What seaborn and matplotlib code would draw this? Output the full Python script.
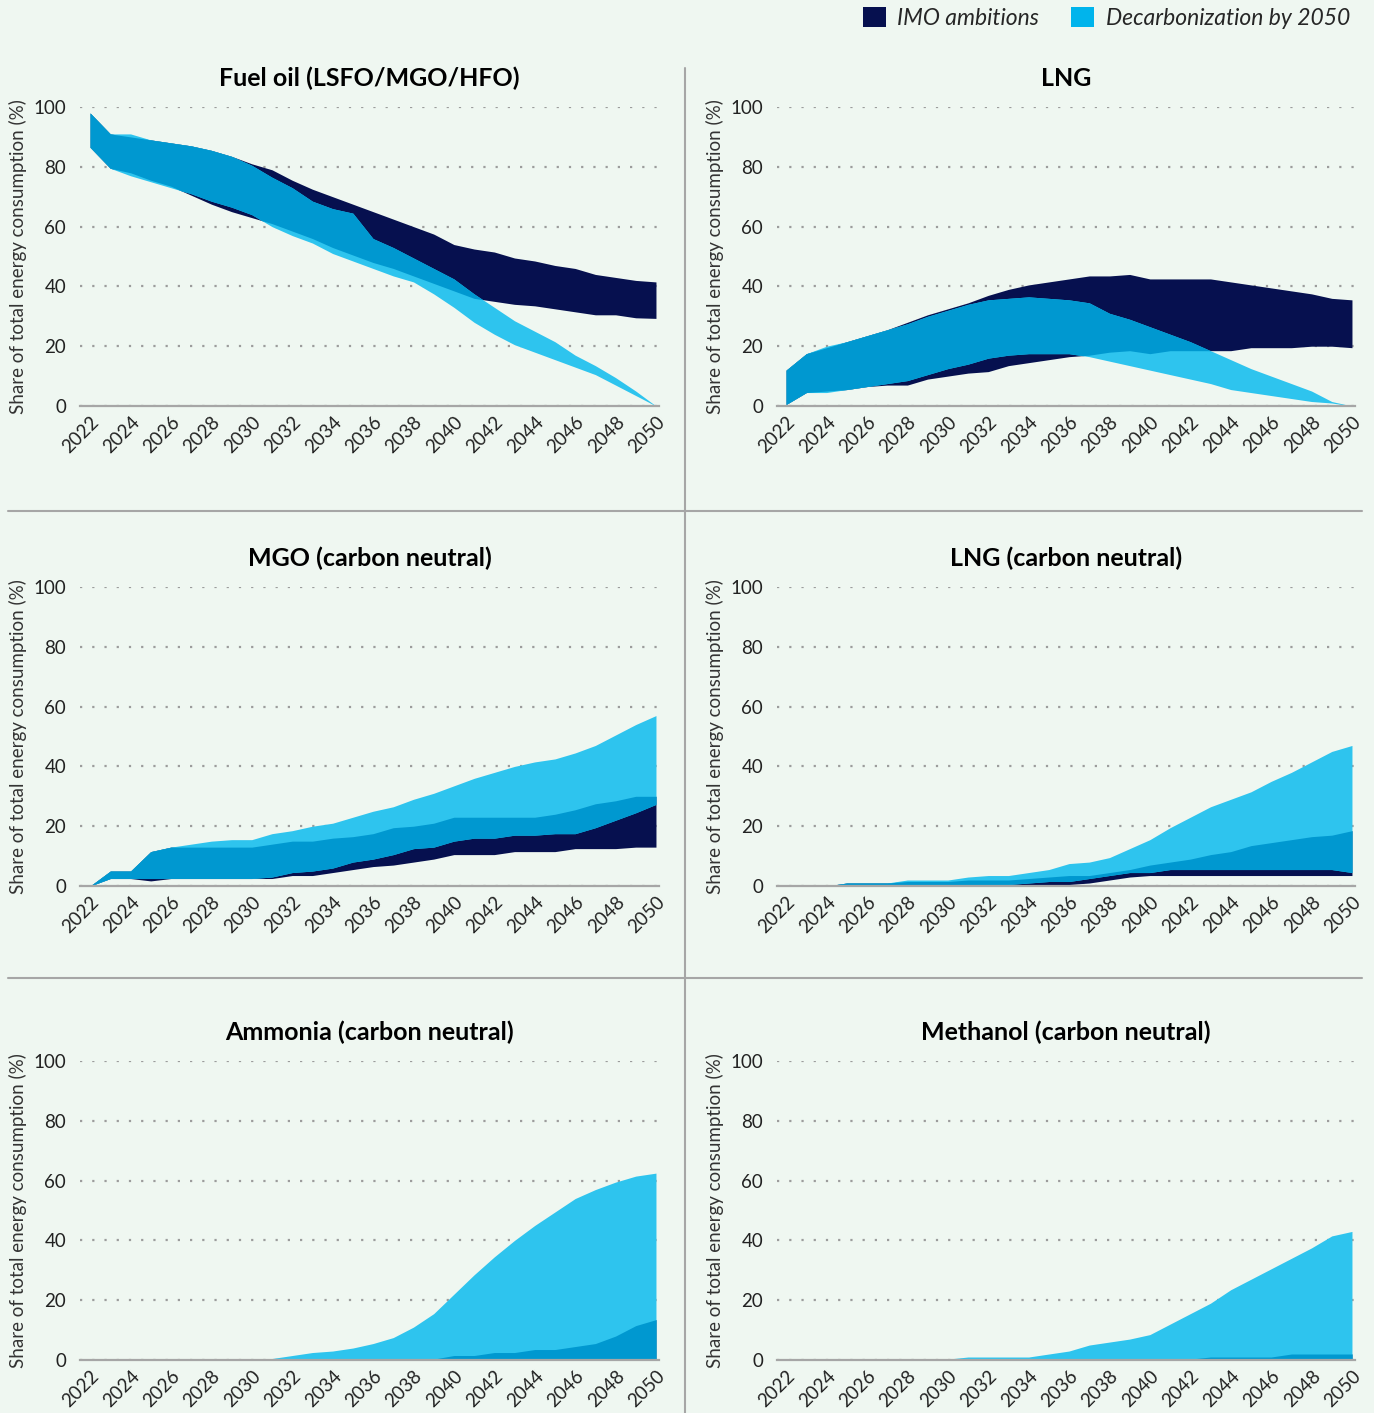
import numpy as np
import matplotlib
matplotlib.use("Agg")
import matplotlib.pyplot as plt
from matplotlib.patches import Patch
from matplotlib.lines import Line2D
import seaborn as sns

# years on the x axis
years = list(range(2022, 2051))

# Fuel oil (LSFO/MGO/HFO)
fuel_imo_hi = [98, 91, 90, 89, 88, 87, 85.5, 83.5, 81, 79, 75.5, 72.5, 70, 67.5, 65,
               62.5, 60, 57.5, 54, 52.5, 51.5, 49.5, 48.5, 47, 46, 44, 43, 42, 41.5]
fuel_imo_lo = [86.5, 79.5, 78, 75.5, 73.5, 70.5, 67.5, 65, 63, 61, 58.5, 56, 53, 50.5, 48,
               46, 43.5, 41, 38.5, 36, 35, 34, 33.5, 32.5, 31.5, 30.5, 30.5, 29.5, 29.3]
fuel_dec_hi = [98, 91, 91, 89, 88, 87, 85.5, 83.5, 80.5, 76.5, 73, 68.5, 66, 64.5, 56,
               53, 49.5, 46, 42.5, 37.5, 33, 28.5, 25, 21.5, 17, 13.5, 9.5, 5, 0]
fuel_dec_lo = [86.5, 79.5, 77, 75, 73, 71, 68.5, 66.5, 64, 60, 57, 54.5, 51, 48.5, 46,
               43.5, 41.5, 37.5, 33, 28, 24, 20.5, 18, 15.5, 13, 10.5, 7, 3.5, 0]

# LNG
lng_imo_hi = [12, 17.5, 19.5, 21.5, 23.5, 25.5, 28, 30.5, 32.5, 34.5, 37, 39, 40.5, 41.5, 42.5,
              43.5, 43.5, 44, 42.5, 42.5, 42.5, 42.5, 41.5, 40.5, 39.5, 38.5, 37.5, 36, 35.5]
lng_imo_lo = [0.5, 4.5, 5, 5.5, 6.5, 7, 7, 9, 10, 11, 11.5, 13.5, 14.5, 15.5, 16.5,
              17, 18, 18.5, 17.5, 18.5, 18.5, 18.5, 18.5, 19.5, 19.5, 19.5, 20, 20, 19.5]
lng_dec_hi = [12, 17.5, 20, 21.5, 23.5, 25.5, 27.5, 30, 32, 34, 35.5, 36, 36.5, 36, 35.5,
              34.5, 31, 29, 26.5, 24, 21.5, 18.5, 15.5, 12.5, 10, 7.5, 5, 1.5, 0]
lng_dec_lo = [0.5, 4.5, 4.5, 5.5, 6.5, 7.5, 8.5, 10.5, 12.5, 14, 16, 17, 17.5, 17.5, 17.5,
              16.5, 15, 13.5, 12, 10.5, 9, 7.5, 5.5, 4.5, 3.5, 2.5, 1.5, 1, 0]

# MGO (carbon neutral)
mgo_imo_hi = [0, 5, 5, 11.5, 13, 13, 13, 13, 13, 14, 15, 15, 16, 16.5, 17.5,
              19.5, 20, 21, 23, 23, 23, 23, 23, 24, 25.5, 27.5, 28.5, 30, 30]
mgo_imo_lo = [0, 2.5, 2.5, 1.7, 2.5, 2.5, 2.5, 2.5, 2.5, 2.5, 3.5, 3.5, 4.5, 5.5, 6.5,
              7, 8, 9, 10.5, 10.5, 10.5, 11.5, 11.5, 11.5, 12.5, 12.5, 12.5, 13, 13]
mgo_dec_hi = [0, 5, 5, 11.5, 13, 14, 15, 15.5, 15.5, 17.5, 18.5, 20, 21, 23, 25,
              26.5, 29, 31, 33.5, 36, 38, 40, 41.5, 42.5, 44.5, 47, 50.5, 54, 57]
mgo_dec_lo = [0, 2.5, 2.5, 2.5, 2.5, 2.5, 2.5, 2.5, 2.5, 3, 4.5, 5, 6, 8, 9,
              10.5, 12.5, 13, 15, 16, 16, 17, 17, 17.5, 17.5, 19.5, 22, 24.5, 27.3]

# LNG (carbon neutral)
lngcn_imo_hi = [0, 0, 0, 1, 1, 1, 1.5, 1.5, 1.5, 2, 2, 2, 2.5, 3, 3.5,
                3.5, 4.5, 5.5, 7, 8, 9, 10.5, 11.5, 13.5, 14.5, 15.5, 16.5, 17, 18.5]
lngcn_imo_lo = [0, 0, 0, 0, 0, 0, 0, 0, 0, 0, 0, 0, 0.5, 0.5, 0.5,
                1, 2, 3, 3.5, 3.5, 3.5, 3.5, 3.5, 3.5, 3.5, 3.5, 3.5, 3.5, 3.5]
lngcn_dec_hi = [0, 0, 0, 1, 1, 1, 2, 2, 2, 3, 3.5, 3.5, 4.5, 5.5, 7.5,
                8, 9.5, 12.5, 15.5, 19.5, 23, 26.5, 29, 31.5, 35, 38, 41.5, 45, 47]
lngcn_dec_lo = [0, 0, 0, 0, 0, 0, 0, 0, 0, 0, 0, 0.5, 1, 1.5, 1.5,
                2.5, 3.5, 4.5, 4.5, 5.5, 5.5, 5.5, 5.5, 5.5, 5.5, 5.5, 5.5, 5.5, 4.5]

# Ammonia (carbon neutral)
amm_imo_hi = [0, 0, 0, 0.3, 0.3, 0.3, 0.3, 0.3, 0.3, 0.3, 0.3, 0.3, 0.3, 0.3, 0.3,
              0.3, 0.3, 0.3, 1.5, 1.5, 2.5, 2.5, 3.5, 3.5, 4.5, 5.5, 8, 11.5, 13.5]
amm_imo_lo = [0] * 29
amm_dec_hi = [0, 0, 0, 0, 0, 0, 0.5, 0.5, 0.5, 0.5, 1.5, 2.5, 3, 4, 5.5,
              7.5, 11, 15.5, 22, 28.5, 34.5, 40, 45, 49.5, 54, 57, 59.5, 61.5, 62.5]
amm_dec_lo = [0] * 29

# Methanol (carbon neutral)
meth_imo_hi = [0, 0, 0, 0.3, 0.3, 0.3, 0.3, 0.3, 0.3, 0.3, 0.3, 0.3, 0.3, 0.3, 0.3,
               0.3, 0.3, 0.3, 0.3, 0.3, 0.3, 1, 1, 1, 1, 2, 2, 2, 2]
meth_imo_lo = [0] * 29
meth_dec_hi = [0, 0, 0, 0.3, 0.3, 0.3, 0.3, 0.3, 0.3, 1, 1, 1, 1, 2, 3,
               5, 6, 7, 8.5, 12, 15.5, 19, 23.5, 27, 30.5, 34, 37.5, 41.5, 43]
meth_dec_lo = [0] * 29

titles = ["Fuel oil (LSFO/MGO/HFO)", "LNG", "MGO (carbon neutral)",
          "LNG (carbon neutral)", "Ammonia (carbon neutral)", "Methanol (carbon neutral)"]
panels = [
    (fuel_imo_lo, fuel_imo_hi, fuel_dec_lo, fuel_dec_hi),
    (lng_imo_lo, lng_imo_hi, lng_dec_lo, lng_dec_hi),
    (mgo_imo_lo, mgo_imo_hi, mgo_dec_lo, mgo_dec_hi),
    (lngcn_imo_lo, lngcn_imo_hi, lngcn_dec_lo, lngcn_dec_hi),
    (amm_imo_lo, amm_imo_hi, amm_dec_lo, amm_dec_hi),
    (meth_imo_lo, meth_imo_hi, meth_dec_lo, meth_dec_hi),
]

bg = "#eff7f1"
navy = "#06104f"
cyan = "#2ec4ee"
overlap = "#0098d0"
legend_cyan = "#00b4ec"
grey = "#a6a6a6"

sns.set_theme(style="white", rc={"axes.facecolor": bg, "figure.facecolor": bg})
plt.rcParams["font.family"] = ["Lato", "DejaVu Sans"]

W, H = 1374, 1413
fig = plt.figure(figsize=(W / 100, H / 100), dpi=100)

cols = [(80, 659, 2021.5), (777, 1355, 2021.55)]
rows = [(107, 406), (587, 886), (1061, 1360)]

xf = np.linspace(2022, 2050, 2801)

for i, (title, (imo_lo, imo_hi, dec_lo, dec_hi)) in enumerate(zip(titles, panels)):
    x0, x1, xmin = cols[i % 2]
    ytop, ybot = rows[i // 2]
    ax = fig.add_axes([x0 / W, 1 - ybot / H, (x1 - x0) / W, (ybot - ytop) / H])

    ax.fill_between(years, imo_lo, imo_hi, color=navy, lw=0)
    ax.fill_between(years, dec_lo, dec_hi, color=cyan, lw=0)
    # overlap of the two ranges
    lo = np.maximum(np.interp(xf, years, imo_lo), np.interp(xf, years, dec_lo))
    hi = np.minimum(np.interp(xf, years, imo_hi), np.interp(xf, years, dec_hi))
    ax.fill_between(xf, lo, hi, where=hi > lo, interpolate=True, color=overlap, lw=0)

    ax.set_xlim(xmin, 2050.15)
    ax.set_ylim(0, 100)
    ax.set_yticks(range(0, 101, 20))
    ax.set_xticks(range(2022, 2051, 2))
    ax.set_xticklabels([str(y) for y in range(2022, 2051, 2)], rotation=45,
                       ha="right", rotation_mode="anchor")
    ax.yaxis.grid(True, color="#9c9c9c", linestyle=(0, (1, 4.5)), lw=1.6)
    ax.xaxis.grid(False)
    ax.set_axisbelow(True)
    sns.despine(ax=ax, left=True)
    ax.spines["bottom"].set_color(grey)
    ax.spines["bottom"].set_linewidth(1.6)
    ax.tick_params(axis="both", length=0, labelsize=13.5, colors="#222222")
    ax.tick_params(axis="y", pad=10)
    ax.tick_params(axis="x", pad=5)
    ax.set_title(title, fontsize=18, fontweight="bold", pad=15, color="#000000")
    ax.set_ylabel("Share of total energy consumption (%)", fontsize=13.5, color="#333333")
    ax.yaxis.set_label_coords(-0.092, 0.5)

# divider lines between the panels
fig.add_artist(Line2D([685 / W, 685 / W], [1 - 68 / H, 0], color=grey, lw=1.5))
for yy in (511, 978):
    fig.add_artist(Line2D([8 / W, 1362 / W], [1 - yy / H, 1 - yy / H], color=grey, lw=1.5))

handles = [Patch(facecolor=navy, edgecolor="none"), Patch(facecolor=legend_cyan, edgecolor="none")]
fig.legend(handles, ["IMO ambitions", "Decarbonization by 2050"], loc="center right",
           bbox_to_anchor=(1350 / W, 1 - 18 / H), ncol=2, frameon=False,
           prop={"style": "italic", "size": 16.5}, handlelength=1.0, handleheight=1.0,
           handletextpad=0.5, columnspacing=1.4, borderaxespad=0, borderpad=0)

fig.savefig("out.png", dpi=100, facecolor=bg)
